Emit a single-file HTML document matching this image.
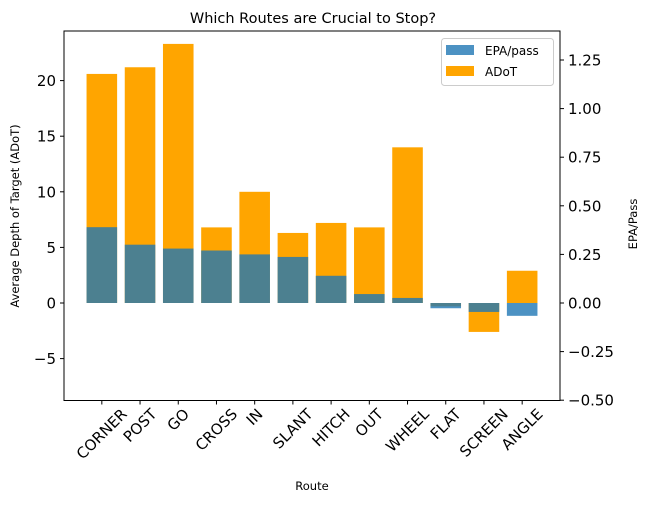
<!DOCTYPE html>
<html><head><meta charset="utf-8"><style>
body{margin:0;background:#fff;font-family:"DejaVu Sans","Liberation Sans",sans-serif;}
</style></head><body>
<svg id="chart" width="649" height="503" xmlns="http://www.w3.org/2000/svg" font-family="DejaVu Sans, Liberation Sans, sans-serif">
<text x="313" y="23" text-anchor="middle" font-size="14.5">Which Routes are Crucial to Stop?</text>
<g id="bars"></g>
<g id="axes"></g>
<text x="312" y="490" text-anchor="middle" font-size="11.5">Route</text>
<text transform="translate(19 216) rotate(-90)" text-anchor="middle" font-size="11.5">Average Depth of Target (ADoT)</text>
<text transform="translate(637 224) rotate(-90)" text-anchor="middle" font-size="11.5">EPA/Pass</text>
<g>
<rect x="441.5" y="38.5" width="112" height="47" rx="3" fill="#fff" fill-opacity="0.8" stroke="#ccc"/>
<rect x="446" y="45" width="28" height="10" fill="#1f77b4" fill-opacity="0.8"/>
<text x="485" y="55" font-size="12">EPA/pass</text>
<rect x="446" y="66" width="28" height="10" fill="#FFA500"/>
<text x="485" y="76" font-size="12">ADoT</text>
</g>
</svg>
<script>
const routes=["CORNER","POST","GO","CROSS","IN","SLANT","HITCH","OUT","WHEEL","FLAT","SCREEN","ANGLE"];
const adot=[20.6,21.2,23.3,6.8,10.0,6.3,7.2,6.8,14.0,-0.3,-2.6,2.9];
const epa=[0.39,0.30,0.28,0.27,0.25,0.237,0.14,0.046,0.026,-0.027,-0.046,-0.066];
const leftTicks=[-5,0,5,10,15,20];
const rightTicks=[-0.5,-0.25,0,0.25,0.5,0.75,1.0,1.25];

const X0=64,X1=560,Y0=31,Y1=400.5;
const xmin=-0.99,xmax=11.99;
const zeroY=303;
const yL=v=>zeroY-v*11.12;
const yR=v=>zeroY-v*194.4;
const xS=i=>X0+(i-xmin)/(xmax-xmin)*(X1-X0);
const bw=0.8*(X1-X0)/(xmax-xmin);
const NS="http://www.w3.org/2000/svg";
function mk(t,a,p){const e=document.createElementNS(NS,t);for(const k in a)e.setAttribute(k,a[k]);p.appendChild(e);return e;}
const bars=document.getElementById('bars'),axes=document.getElementById('axes');
adot.forEach((v,i)=>{const y=yL(Math.max(v,0)),h=Math.abs(yL(v)-zeroY);
const r=mk('rect',{x:xS(i)-bw/2,y:y,width:bw,height:h,fill:'#FFA500'},bars);

});
epa.forEach((v,i)=>{const y=yR(Math.max(v,0)),h=Math.abs(yR(v)-zeroY);
const r=mk('rect',{x:xS(i)-bw/2,y:y,width:bw,height:h,fill:'#1f77b4','fill-opacity':0.8},bars);

});
mk('rect',{x:X0,y:Y0,width:X1-X0,height:Y1-Y0,fill:'none',stroke:'#000','stroke-width':1},axes);
const FS=15;
leftTicks.forEach(t=>{const y=yL(t);mk('line',{x1:X0-4,x2:X0,y1:y,y2:y,stroke:'#000'},axes);
const tx=mk('text',{x:X0-8,y:y+5.5,'text-anchor':'end','font-size':FS},axes);tx.textContent=t<0?'\u2212'+(-t):t;

});
rightTicks.forEach(t=>{const y=yR(t);mk('line',{x1:X1,x2:X1+4,y1:y,y2:y,stroke:'#000'},axes);
const s=(t<0?'\u2212':'')+Math.abs(t).toFixed(2);
const tx=mk('text',{x:X1+8,y:y+5.5,'font-size':FS},axes);tx.textContent=s;

});
routes.forEach((r,i)=>{const x=xS(i);mk('line',{x1:x,x2:x,y1:Y1,y2:Y1+4,stroke:'#000'},axes);
const tx=mk('text',{x:x,y:0,'text-anchor':'middle','dominant-baseline':'central','font-size':FS},axes);tx.textContent=r;
const w=tx.getComputedTextLength();const cy=Y1+7+(w+FS*0.75)*0.7071/2;
tx.setAttribute('y',cy);tx.setAttribute('transform',`rotate(-45 ${x} ${cy})`);

});
</script>
</body></html>
